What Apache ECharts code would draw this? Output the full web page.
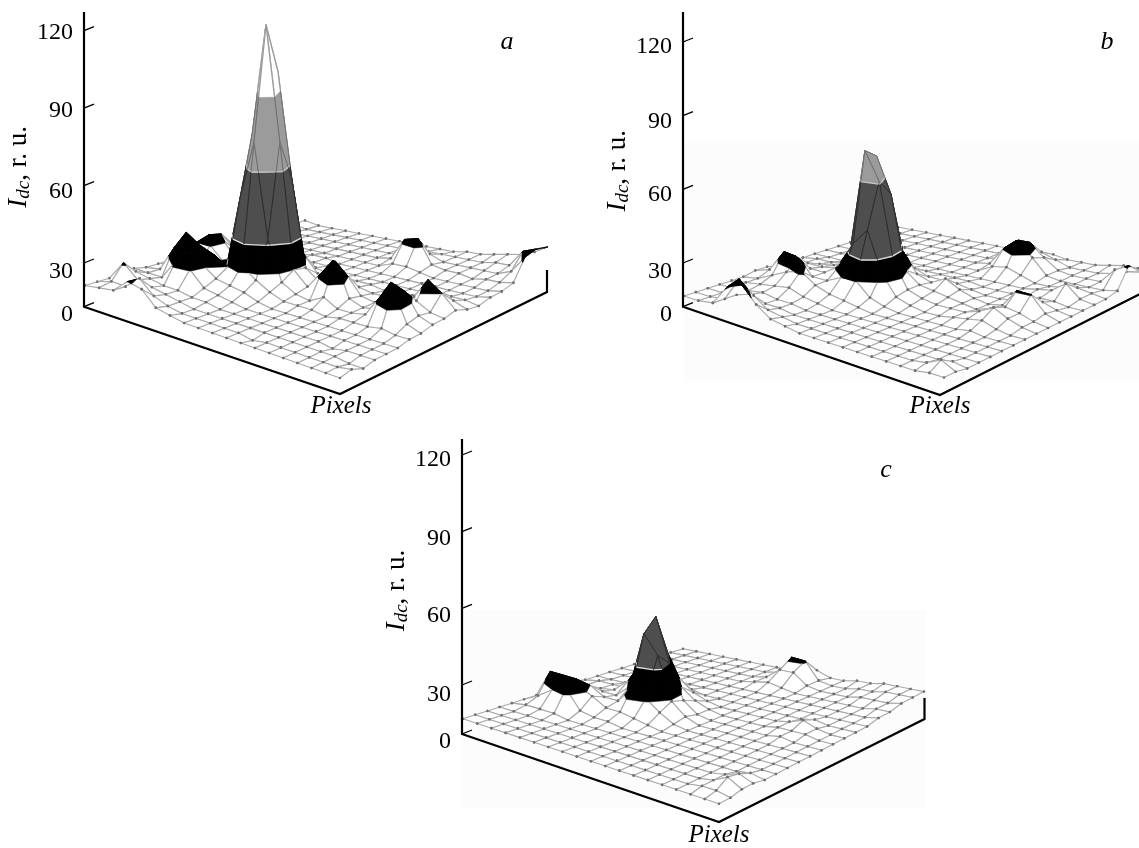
<!DOCTYPE html>
<html><head><meta charset="utf-8">
<style>html,body{margin:0;padding:0;background:#fff}#c{width:1139px;height:848px}</style>
<script src="https://cdn.jsdelivr.net/npm/echarts@6/dist/echarts.min.js"></script>
</head><body><div id="c"></div>
<script>
const tickLabels = [0, 30, 60, 90, 120];
const panelNames = ['a', 'b', 'c'];
// surface heights, in axis units; rows run towards the viewer, columns towards the back
const heightsA = [
[21,21,21,22,22,21,21,21,22,23,23,22,21,21,21,21,21,21,21],
[22,23,28.8,24,22,22,23,23,28.1,29.5,28.4,23,22,21,21,21,20,20,20],
[23,23,24,23,22,32,36.5,24,28.2,29,24,22,21,21,21,20,20,20,20],
[28.3,27.9,23,22,30,33,33,24,23,23,22,21,21,21,20,20,20,20,20],
[27.3,23,22,22,28.4,29,31,24,30,25,22,21,21,20,20,20,20,20,20],
[22,21,21,21,23,25,28,53,76,60,28,22,21,21,20,20,20,20,20],
[21,20,20,21,22,24,30,76,120,100,36,23,21,21,20,20,20,20,20],
[20,20,20,20,21,23,26,40,76,60,29,22,21,20,20,20,20,20,20],
[20,20,20,20,20,21,23,25,28,27,23,21,20,20,20,20,20,20,20],
[20,20,20,20,20,20,21,22,23,23,23,21,20,20,20,21,21,20,20],
[20,20,20,20,20,20,21,21,30,33,23,21,20,20,22,29.5,22,21,20],
[20,19,20,20,20,20,21,24,36,28.5,22,21,20,20,22,31,23,21,20],
[20,20,20,20,20,20,20,21,23,22,21,20,20,20,21,22,21,21,21],
[20,20,20,20,20,20,21,21,21,21,21,20,20,20,20,21,21,21,21],
[20,20,20,20,20,20,21,22,22,22,22,21,20,20,20,21,21,21,22],
[20,20,20,19,20,20,21,30,34,25,24,21,20,20,20,20,21,22,23],
[20,20,20,20,20,20,22,35,32,26,32,25,21,20,20,21,21,22,24],
[20,20,19,20,20,20,21,23,24,23,28.2,23,21,20,20,21,23,28.5,26],
[20,21,19,20,20,20,21,21,22,22,23,21,20,21,21,22,29.5,30.5,29]];
const heightsB = [
[20,20,20,20,20,20,21,21,20,20,20,20,20,20,20,20,20,20,20],
[20,20,20,20,21,21,23,23,22,21,21,20,20,20,20,20,20,20,20],
[21,21,21,21,22,24,32,28.5,24,22,21,20,20,20,20,20,20,20,20],
[29.5,31,23,22,23,27,31,25,24,23,22,21,20,20,20,20,20,20,20],
[32,26,21,21,24,29,25,25,25,25,23,21,20,20,20,20,20,20,20],
[26,22,21,21,22,25,25,29,35,45,32,23,21,20,20,20,20,20,20],
[22,21,20,20,21,23,28,40,76,72,40,25,21,20,20,20,20,20,20],
[21,20,20,20,20,22,28.4,47,65,58,33,24,21,20,20,20,20,20,20],
[20,20,20,20,20,21,23,31,34,28.5,25,22,21,20,20,20,20,20,20],
[20,20,20,20,20,20,21,23,24,24,23,22,21,20,20,21,21,20,20],
[20,20,20,20,20,20,20,21,22,23,26,22,21,20,23,28.5,29.5,23,20],
[20,20,20,20,20,20,20,20,21,22,23,21,20,20,24,33,30,24,21],
[20,20,20,20,20,20,20,20,21,21,21,20,20,20,22,27,25,22,20],
[20,20,20,20,20,20,20,21,21,20,20,20,20,20,20,21,21,20,20],
[20,20,20,20,20,20,20,22,23,22,21,21,20,21,20,20,20,20,20],
[20,20,20,20,20,20,21,23,26,24,28.5,23,21,22,21,20,20,20,21],
[20,21,20,20,20,20,20,21,23,23,28.3,23,21,26,22,20,20,21,22],
[21,24,21,20,20,20,20,20,21,21,22,21,20,21,21,20,26,23,22],
[21,21,20,20,20,20,20,20,20,20,20,20,20,20,20,21,29,24,22]];
const heightsC = [
[17,17,17,17,17,17,17,18,18,18,17,17,17,17,17,17,17,17,17],
[17,17,17,17,18,20,28,21,19,18,18,17,17,17,17,17,17,17,17],
[17,17,17,17,18,24,28,25,20,18,18,17,17,17,17,17,17,17,17],
[17,17,17,17,18,26,25.5,24,20,19,18,17,17,17,17,17,17,17,17],
[17,17,17,17,17,19,23,21,20,24,23,18,17,17,17,17,17,17,17],
[17,17,17,17,17,18,20,21,25,33,35,24,18,17,17,17,17,17,17],
[17,17,17,17,17,18,20,27.5,47,52,36,24,18,17,17,17,17,17,17],
[17,17,17,17,17,17,19,25,40,35,24,20,17,17,17,17,17,17,17],
[17,17,17,17,17,17,18,21,23.5,22,20,18,17,17,17,18,18,18,17],
[17,17,17,17,17,17,17,18,19,18,18,17,17,17,17,19,22,25,19],
[17,17,17,17,17,17,17,17,17,17,17,17,17,17,17,18,22,24.6,19],
[17,17,17,17,17,17,17,17,17,17,17,17,17,17,17,17,18,18,17],
[17,17,17,17,17,17,17,17,17,17,17,17,17,17,17,17,17,17,17],
[17,17,17,17,17,17,17,17,17,17,17,17,17,17,17,17,17,17,18],
[17,17,17,17,17,17,17,17,17,17,18,18,17,17,17,17,17,18,18],
[17,17,17,17,17,17,17,17,17,18,18,20,18,17,17,17,18,18,19],
[17,18,18,18,17,17,17,17,17,17,18,18,17,17,17,17,18,19,19],
[17,18,21,20,18,17,17,17,17,17,17,17,17,17,17,18,18,19,19],
[17,17,18,18,17,17,17,17,17,17,17,17,17,17,18,18,19,19,19]];
const levelsA = [28, 38, 65, 93];
const levelsB = [28, 36, 64, 93];
const levelsC = [24, 35, 65, 93];

const FONT = '"Liberation Serif","Times New Roman",serif';
const panels = [
 {z:heightsA, lv:levelsA, left:84, t30:263, t120:30.7, zeroY:306.7, topY:12, floor:20,
  surf:{L:[85,288],F:[340,378],R:[548,270],B:[305,223]},
  frame:[[84,12],[84,306.7],[340,394],[547,292],[547,270]], nudge:[8,9,6,3,2.5],
  name:[507,44], px:[341,408], gapName:48, namePad:76, band:null},
 {z:heightsB, lv:levelsB, left:683, t30:263, t120:42, zeroY:306.7, topY:12, floor:20,
  surf:{L:[684,296],F:[944,380],R:[1152,276],B:[898,227]},
  frame:[[683,12],[683,306.7],[940,395],[1152,288]], nudge:[8,9,5,6,5],
  name:[1107,44], px:[940,408], gapName:49, namePad:74, band:[684,143,455,240]},
 {z:heightsC, lv:levelsC, left:462, t30:685, t120:455, zeroY:734, topY:439, floor:16.5,
  surf:{L:[463,720],F:[719,805],R:[924,698],B:[683,650]},
  frame:[[462,439],[462,734],[719,822],[924.5,719],[924.5,698]], nudge:[8,10,7,7,5],
  name:[886,472], px:[719,837], gapName:48, namePad:74, band:[463,610,463,198]}
];

const opt = {backgroundColor:'#fff', animation:false, grid:[], xAxis:[], yAxis:[], series:[], title:[], graphic:[]};
const MIN=-30, MAX=135, XW=480;
const LINE = ['#a8a8a8','#000','#2e2e2e','#707070','#9a9a9a'];
const FILL = ['#fff','#000','#4e4e4e','#9b9b9b','#fff'];
const WID = [1.1,0.8,1,1,1.3];

panels.forEach((p,idx)=>{
  const k=(p.t30-p.t120)/90;
  const pos0=30-(p.zeroY-p.t30)/k;
  const toPos=y=>30+(p.t30-y)/k;
  const toData=q=>[q[0]-p.left,toPos(q[1])];
  const valueToPos=v=>v>=30?v:pos0+(30-pos0)*v/30;
  const C={L:toData(p.surf.L),F:toData(p.surf.F),R:toData(p.surf.R),B:toData(p.surf.B)};
  const N=p.z.length-1;
  const base=(i,j,z)=>{
    const a=i/N,b=j/N;
    const f=n=>(1-a)*(1-b)*C.L[n]+a*(1-b)*C.F[n]+a*b*C.R[n]+(1-a)*b*C.B[n];
    return [f(0),f(1)+z-p.floor];
  };
  const labelPos=tickLabels.map((v,n)=>valueToPos(v)-p.nudge[n]/k);

  opt.grid.push({left:p.left,width:XW,top:p.t30-(MAX-30)*k,height:(MAX-MIN)*k,containLabel:false,outerBoundsMode:'none'});
  opt.xAxis.push({gridIndex:idx,type:'value',min:0,max:XW,show:false});
  opt.yAxis.push({gridIndex:idx,type:'value',min:MIN,max:MAX,
    axisLine:{show:false},axisTick:{show:false},splitLine:{show:false},
    axisLabel:{customValues:labelPos,margin:11,fontSize:24,fontFamily:FONT,color:'#000',
      formatter:val=>{let b=0;labelPos.forEach((q,n)=>{if(Math.abs(q-val)<Math.abs(labelPos[b]-val))b=n;});return String(tickLabels[b]);}},
    name:'{i|I}{s|dc}{r|, r. u.}',nameLocation:'middle',nameRotate:90,nameGap:p.gapName,
    nameTextStyle:{padding:[0,0,0,p.namePad],rich:{
      i:{fontFamily:FONT,fontStyle:'italic',fontSize:27,lineHeight:28,color:'#000'},
      s:{fontFamily:FONT,fontStyle:'italic',fontSize:19,lineHeight:17,verticalAlign:'bottom',color:'#000'},
      r:{fontFamily:FONT,fontSize:27,lineHeight:28,color:'#000'}}}
  });

  // surface cells, far to near
  const cells=[];
  for(let i=0;i<N;i++)for(let j=N-1;j>=0;j--)
    cells.push([i,j,p.z[i][j],p.z[i+1][j],p.z[i+1][j+1],p.z[i][j+1]]);
  const lv=p.lv;
  const bands=[[-1e9,lv[0]],[lv[0],lv[1]],[lv[1],lv[2]],[lv[2],lv[3]],[lv[3],1e9]];
  const clipHalf=(poly,t,keepAbove)=>{
    const out=[];
    for(let n=0;n<poly.length;n++){
      const a=poly[n],b=poly[(n+1)%poly.length];
      const ina=keepAbove?a[2]>=t:a[2]<=t, inb=keepAbove?b[2]>=t:b[2]<=t;
      if(ina)out.push(a);
      if(ina!==inb){const u=(t-a[2])/(b[2]-a[2]);out.push([a[0]+(b[0]-a[0])*u,a[1]+(b[1]-a[1])*u,t]);}
    }
    return out;
  };
  const clipSeg=(a,b,lo,hi)=>{
    let u0=0,u1=1;const d=b[2]-a[2];
    if(d===0){ if(a[2]<lo||a[2]>hi) return null; }
    else{
      const ua=(lo-a[2])/d,ub=(hi-a[2])/d;
      u0=Math.max(u0,Math.min(ua,ub));u1=Math.min(u1,Math.max(ua,ub));
      if(u0>=u1)return null;
    }
    const m=u=>[a[0]+(b[0]-a[0])*u,a[1]+(b[1]-a[1])*u,a[2]+d*u];
    return [m(u0),m(u1)];
  };
  opt.series.push({type:'custom',coordinateSystem:'cartesian2d',xAxisIndex:idx,yAxisIndex:idx,z:3,silent:true,clip:false,
    data:cells,encode:{x:0,y:1},
    renderItem:(params,api)=>{
      const i=api.value(0),j=api.value(1);
      const quad=[[i,j,api.value(2)],[i+1,j,api.value(3)],[i+1,j+1,api.value(4)],[i,j+1,api.value(5)]];
      const S=q=>api.coord(base(q[0],q[1],q[2]));
      const ch=[];
      bands.forEach((bd,n)=>{
        let poly=clipHalf(quad,bd[0],true); if(poly.length>2) poly=clipHalf(poly,bd[1],false);
        if(poly.length<3)return;
        ch.push({type:'polygon',shape:{points:poly.map(S)},style:{fill:FILL[n],stroke:FILL[n],lineWidth:0.5}});
      });
      bands.forEach((bd,n)=>{
        for(let e=0;e<4;e++){
          const s=clipSeg(quad[e],quad[(e+1)%4],bd[0],bd[1]);
          if(!s)continue;
          const A=S(s[0]),B=S(s[1]);
          ch.push({type:'line',shape:{x1:A[0],y1:A[1],x2:B[0],y2:B[1]},style:{stroke:LINE[n],lineWidth:WID[n]}});
        }
      });
      // light contour lines between the dark bands
      [lv[1],lv[2]].forEach((t,m)=>{
        const pts=[];
        for(let e=0;e<4;e++){
          const a=quad[e],b=quad[(e+1)%4];
          if((a[2]-t)*(b[2]-t)<0){const u=(t-a[2])/(b[2]-a[2]);pts.push(S([a[0]+(b[0]-a[0])*u,a[1]+(b[1]-a[1])*u,t]));}
        }
        if(pts.length>=2)ch.push({type:'line',shape:{x1:pts[0][0],y1:pts[0][1],x2:pts[1][0],y2:pts[1][1]},style:{stroke:m?'#c4c4c4':'#dcdcdc',lineWidth:1.4}});
      });
      quad.forEach(q=>{
        if(q[2]<lv[0]){const c=S(q);ch.push({type:'circle',shape:{cx:c[0],cy:c[1],r:1.3},style:{fill:'#707070'}});}
      });
      return {type:'group',children:ch};
    }});

  // slanted tick marks
  opt.series.push({type:'custom',coordinateSystem:'cartesian2d',xAxisIndex:idx,yAxisIndex:idx,z:6,silent:true,clip:false,
    data:tickLabels.map(v=>[0,valueToPos(v)]),encode:{x:0,y:1},
    renderItem:(params,api)=>{const c=api.coord([api.value(0),api.value(1)]);
      return {type:'line',shape:{x1:c[0],y1:c[1],x2:c[0]+10,y2:c[1]-4},style:{stroke:'#000',lineWidth:1.3}};}});

  // frame
  opt.series.push({type:'line',xAxisIndex:idx,yAxisIndex:idx,z:7,silent:true,clip:false,showSymbol:false,symbol:'none',
    lineStyle:{color:'#000',width:2.2,join:'miter'},data:p.frame.map(toData)});

  opt.title.push({text:panelNames[idx],left:p.name[0],top:p.name[1]-15,padding:0,textAlign:'center',
    textStyle:{fontFamily:FONT,fontStyle:'italic',fontWeight:'normal',fontSize:26,color:'#000'}});
  opt.title.push({text:'Pixels',left:p.px[0],top:p.px[1]-14,padding:0,textAlign:'center',
    textStyle:{fontFamily:FONT,fontStyle:'italic',fontWeight:'normal',fontSize:25,color:'#000'}});
  if(p.band) opt.graphic.push({type:'rect',z:-1,silent:true,shape:{x:p.band[0],y:p.band[1],width:p.band[2],height:p.band[3]},style:{fill:'#fcfcfc'}});
});
const chart=echarts.init(document.getElementById('c'),null,{renderer:'canvas'});
chart.setOption(opt);
</script></body></html>
